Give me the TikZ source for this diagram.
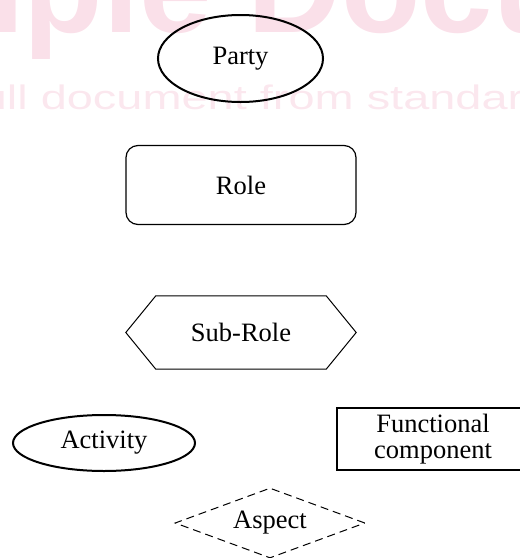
\documentclass[tikz,border=0pt]{standalone}
\usepackage{fontspec}
\setmainfont{Liberation Serif}
\newfontfamily\wmfont{Liberation Sans}
\usetikzlibrary{shapes.geometric}
\definecolor{wmpink}{RGB}{250,224,233}
\definecolor{wmpinkb}{RGB}{251,231,238}
\begin{document}
\begin{tikzpicture}[x=1pt,y=-1pt,
  lbl/.style={font=\fontsize{26.5}{27}\selectfont, align=center, inner sep=0pt},
  thick2/.style={line width=2pt},
  thin1/.style={line width=1pt}]
\useasboundingbox (0,0) rectangle (520,558);
\begin{scope}
\clip (0,0) rectangle (520,558);
\node[anchor=base west, inner sep=0pt, text=wmpink,
  font=\wmfont\bfseries\fontsize{130}{130}\selectfont] (wmA) at (-251,32) {Sample Document};
\node[anchor=base west, inner sep=0pt, text=wmpinkb,
  font=\wmfont\fontsize{34}{34}\selectfont] (wmB) at (-254,109) {\scalebox{1.38}[1]{Download full document from standards}};
\end{scope}

\node[lbl, draw, thick2, ellipse, minimum width=165pt, minimum height=87pt] (party) at (240.5,58.5) {Party};
\node[lbl, draw, line width=1.2pt, rectangle, rounded corners=12pt, minimum width=230pt, minimum height=79pt] (role) at (241,185) {Role};
\node[lbl, minimum width=170pt, minimum height=73pt] (sub) at (241,332.5) {Sub-Role};
\draw[thin1] (sub.north west) -- (sub.north east) -- ([xshift=30pt]sub.east) -- (sub.south east)
  -- (sub.south west) -- ([xshift=-30pt]sub.west) -- cycle;
\node[lbl, draw, thick2, ellipse, minimum width=182pt, minimum height=56pt] (act) at (104,443) {Activity};
\node[lbl, draw, thick2, rectangle, minimum width=192pt, minimum height=62pt, font=\fontsize{26.5}{26}\selectfont] (fc) at (433,439) {Functional\\component};
\node[lbl, draw, thin1, diamond, aspect=2.7, dash pattern=on 8pt off 5pt, minimum width=190pt, minimum height=70pt] (asp) at (270,523) {Aspect};
\end{tikzpicture}
\end{document}
